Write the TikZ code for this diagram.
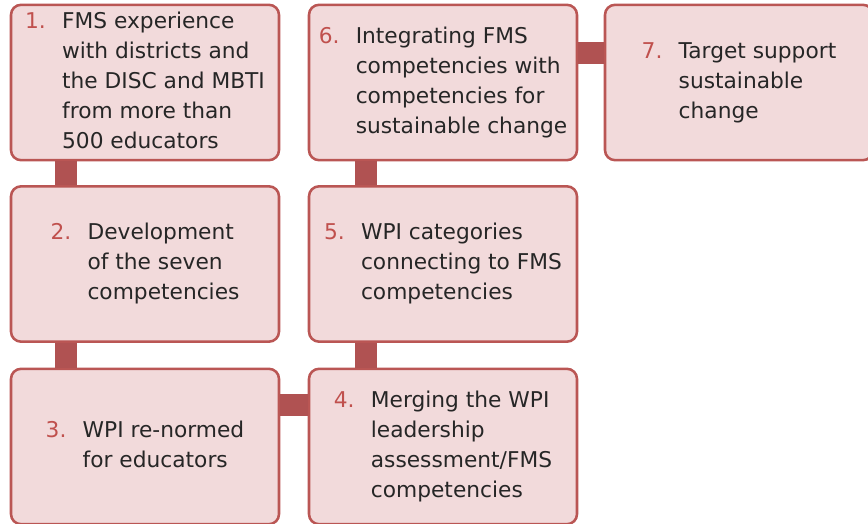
\documentclass[tikz,border=0pt]{standalone}
\usepackage{fontspec}
\setmainfont{DejaVu Sans}
\definecolor{boxfill}{RGB}{242,218,219}
\definecolor{boxline}{RGB}{186,86,84}
\definecolor{linkred}{RGB}{176,82,82}
\definecolor{numred}{RGB}{192,80,77}
\definecolor{txtgray}{RGB}{38,38,38}
\newcommand{\stepitem}[2]{\makebox[27.75pt][l]{\color{numred}#1}\begin{tabular}[t]{@{}l@{}}#2\end{tabular}}
\tikzset{every picture/.style={line width=0.75pt}}

\begin{document}
\begin{tikzpicture}[x=0.75pt,y=0.75pt,yscale=-1,
  stepbox/.style={draw=boxline, fill=boxfill, line width=1.9pt, rounded corners=7.5pt,
    minimum width=201pt, minimum height=116.5pt, inner sep=0pt, text=txtgray,
    font=\fontsize{16.3}{22.5}\selectfont},
  link/.style={draw=linkred, line width=16.5pt}]
	%set diagram size 868 x 524
	\useasboundingbox (0,0) rectangle (868,524);

	%Shape: Boxes, left column
	\node[stepbox] (b1) at (145,82.5) {\stepitem{1.}{FMS experience\\with districts and\\the DISC and MBTI\\from more than\\500 educators}};
	\node[stepbox] (b2) at (145,264) {\stepitem{2.}{Development\\of the seven\\competencies}};
	\node[stepbox] (b3) at (145,446.5) {\stepitem{3.}{WPI re-normed\\for educators}};
	%Shape: Boxes, middle column
	\node[stepbox] (b4) at (443,446.5) {\stepitem{4.}{Merging the WPI\\leadership\\assessment/FMS\\competencies}};
	\node[stepbox] (b5) at (443,264) {\stepitem{5.}{WPI categories\\connecting to FMS\\competencies}};
	\node[stepbox] (b6) at (443,82.5) {\stepitem{6.}{Integrating FMS\\competencies with\\competencies for\\sustainable change}};
	%Shape: Box, right column
	\node[stepbox] (b7) at (739,82.5) {\stepitem{7.}{Target support\\sustainable\\change}};

	%Straight Lines: links
	\draw[link] ([xshift=-58.9pt]b1.south) -- ([xshift=-58.9pt]b2.north);
	\draw[link] ([xshift=-58.9pt]b2.south) -- ([xshift=-58.9pt]b3.north);
	\draw[link] ([yshift=-31.5pt]b3.east) -- ([yshift=-31.5pt]b4.west);
	\draw[link] ([xshift=-57.4pt]b4.north) -- ([xshift=-57.4pt]b5.south);
	\draw[link] ([xshift=-57.4pt]b5.north) -- ([xshift=-57.4pt]b6.south);
	\draw[link] ([yshift=-22.1pt]b6.east) -- ([yshift=-22.1pt]b7.west);

\end{tikzpicture}
\end{document}
